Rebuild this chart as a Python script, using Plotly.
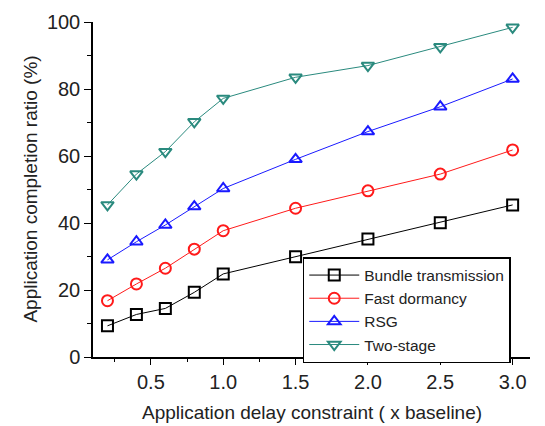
import plotly.graph_objects as go

x_vals = [0.2, 0.4, 0.6, 0.8, 1.0, 1.5, 2.0, 2.5, 3.0]
bundle = [9.3, 12.7, 14.5, 19.3, 24.8, 29.9, 35.2, 40.1, 45.4]
fast_dormancy = [16.8, 21.8, 26.5, 32.2, 37.7, 44.4, 49.6, 54.6, 61.8]
rsg = [29.0, 34.4, 39.4, 44.9, 50.3, 59.0, 67.3, 74.7, 83.0]
two_stage = [45.4, 54.6, 61.3, 70.2, 77.2, 83.5, 87.0, 92.6, 98.4]

x_tick_vals = [0.5, 1.0, 1.5, 2.0, 2.5, 3.0]
x_tick_text = ["0.5", "1.0", "1.5", "2.0", "2.5", "3.0"]
y_tick_vals = [0, 20, 40, 60, 80, 100]

series = [
    ("Bundle transmission", bundle, "#000000", "square-open"),
    ("Fast dormancy", fast_dormancy, "#ff1a1a", "circle-open"),
    ("RSG", rsg, "#1a1aff", "triangle-up-open"),
    ("Two-stage", two_stage, "#2a8a7e", "triangle-down-open"),
]

fig = go.Figure()
for name, ys, color, sym in series:
    fig.add_trace(go.Scatter(
        x=x_vals, y=ys, name=name, mode="lines+markers",
        line=dict(color=color, width=1),
        marker=dict(symbol=sym, size=11, color=color, line=dict(color=color, width=2)),
    ))

font_family = "Liberation Sans, Arial, sans-serif"
txt_color = "#222222"
fig.update_layout(
    width=545, height=418,
    margin=dict(l=85, r=23, t=14, b=69),
    paper_bgcolor="white", plot_bgcolor="white",
    font=dict(family=font_family, size=20, color=txt_color),
    showlegend=True,
    legend=dict(
        x=0.48, y=0.2985, xanchor="left", yanchor="top",
        bgcolor="white", bordercolor="black", borderwidth=1.5,
        font=dict(size=15.5, color=txt_color),
        tracegroupgap=0, itemwidth=50,
    ),
    xaxis=dict(
        range=[0.1, 3.12],
        tickvals=x_tick_vals, ticktext=x_tick_text,
        ticks="outside", ticklen=6, tickwidth=1.2, tickcolor="black",
        minor=dict(ticks="outside", ticklen=3, tickwidth=1, tickcolor="black", dtick=0.25, tick0=0.0, showgrid=False),
        showline=True, linecolor="black", linewidth=1.5,
        showgrid=False, zeroline=False, automargin=False,
    ),
    xaxis2=dict(
        range=[0.1, 3.12], overlaying="x", side="top", anchor="y",
        tickvals=x_tick_vals, showticklabels=False,
        ticks="inside", ticklen=6, tickwidth=1.2, tickcolor="black",
        minor=dict(ticks="inside", ticklen=3, tickwidth=1, tickcolor="black", dtick=0.25, tick0=0.0, showgrid=False),
        showline=True, linecolor="black", linewidth=1.5,
        showgrid=False, zeroline=False, automargin=False,
    ),
    yaxis=dict(
        range=[0, 100],
        tickvals=y_tick_vals,
        ticks="outside", ticklen=7, tickwidth=1.2, tickcolor="black",
        minor=dict(ticks="outside", ticklen=4, tickwidth=1, tickcolor="black", dtick=10, showgrid=False),
        showline=True, linecolor="black", linewidth=1.5,
        showgrid=False, zeroline=False, automargin=False,
    ),
    yaxis2=dict(
        range=[0, 100], overlaying="y", side="right", anchor="x",
        tickvals=y_tick_vals, showticklabels=False,
        ticks="inside", ticklen=7, tickwidth=1.2, tickcolor="black",
        minor=dict(ticks="inside", ticklen=4, tickwidth=1, tickcolor="black", dtick=10, showgrid=False),
        showline=True, linecolor="black", linewidth=1.5,
        showgrid=False, zeroline=False, automargin=False,
    ),
    annotations=[
        dict(text="Application delay constraint ( x baseline)", xref="paper", yref="paper",
             x=0.5, y=-0.167, xanchor="center", yanchor="middle", showarrow=False,
             font=dict(size=19, color=txt_color)),
        dict(text="Application completion ratio (%)", xref="paper", yref="paper",
             x=-0.144, y=0.5, xanchor="center", yanchor="middle", showarrow=False, textangle=-90,
             font=dict(size=19, color=txt_color)),
    ],
)

fig.write_html("out.html")
